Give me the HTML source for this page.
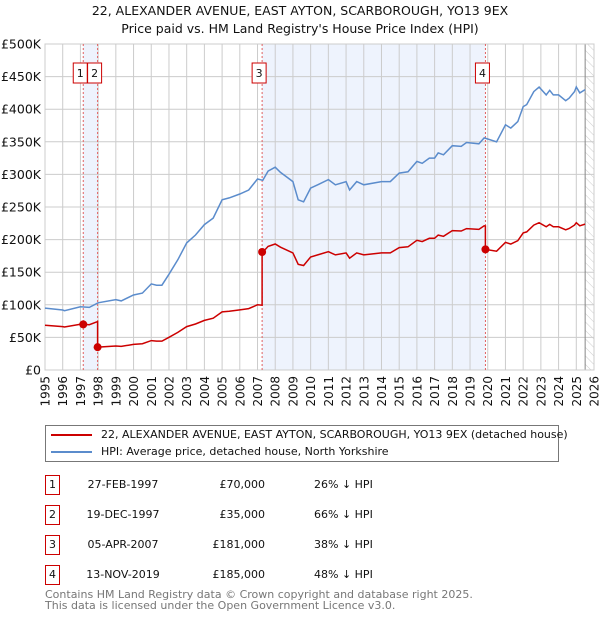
<!DOCTYPE html>
<html><head><meta charset="utf-8">
<style>
body{margin:0;background:#fff;font-family:"Liberation Sans","DejaVu Sans",sans-serif;}
svg text{font-family:"DejaVu Sans","Liberation Sans",sans-serif;}
</style></head>
<body>
<svg id="chart" width="600" height="620" xmlns="http://www.w3.org/2000/svg" style="position:absolute;left:0;top:0">
<defs>
<pattern id="hatch" width="6" height="6" patternUnits="userSpaceOnUse" patternTransform="rotate(-45)">
<line x1="0" y1="0" x2="0" y2="6" stroke="#ccc" stroke-width="1"/>
</pattern>
</defs>
<text x="300" y="15" font-size="12.5" text-anchor="middle" fill="#111">22, ALEXANDER AVENUE, EAST AYTON, SCARBOROUGH, YO13 9EX</text>
<text x="300" y="33" font-size="12.5" text-anchor="middle" fill="#111">Price paid vs. HM Land Registry's House Price Index (HPI)</text>
<g id="plot"></g>
</svg>

<div style="position:absolute;left:45px;top:425px;width:514px;height:37px;border:1px solid #777;box-sizing:border-box;font-family:'DejaVu Sans',sans-serif;font-size:11px;color:#111;">
 <div style="position:absolute;left:5px;top:2px;white-space:nowrap;line-height:14px"><span style="display:inline-block;width:41px;height:2px;background:#cc0000;vertical-align:middle;margin-right:9px"></span>22, ALEXANDER AVENUE, EAST AYTON, SCARBOROUGH, YO13 9EX (detached house)</div>
 <div style="position:absolute;left:5px;top:19px;white-space:nowrap;line-height:14px"><span style="display:inline-block;width:41px;height:2px;background:#5b8ccc;vertical-align:middle;margin-right:9px"></span>HPI: Average price, detached house, North Yorkshire</div>
</div>

<div id="table" style="font-family:'DejaVu Sans',sans-serif;font-size:11px;color:#111;"></div>

<div style="position:absolute;left:45px;top:590px;font-family:'DejaVu Sans',sans-serif;font-size:11px;color:#777;line-height:10.5px">Contains HM Land Registry data © Crown copyright and database right 2025.<br>This data is licensed under the Open Government Licence v3.0.</div>

<script>
const hpiYears=[1995,1996,1996.1,1997,1997.5,1998,1999,1999.3,2000,2000.5,2001,2001.3,2001.6,2002,2002.5,2003,2003.5,2004,2004.5,2005,2005.4,2006,2006.5,2007,2007.3,2007.6,2008,2008.3,2008.6,2009,2009.3,2009.6,2010,2010.4,2011,2011.4,2012,2012.2,2012.6,2013,2014,2014.5,2015,2015.5,2016,2016.3,2016.7,2017,2017.2,2017.5,2018,2018.5,2018.8,2019.5,2019.8,2020.5,2021,2021.3,2021.7,2022,2022.2,2022.6,2022.9,2023.3,2023.5,2023.7,2024,2024.4,2024.6,2024.9,2025,2025.2,2025.5];
const hpiValues=[95,92,91,97,96,103,108,106,115,118,132,130,130,147,169,195,207,223,233,261,264,270,276,293,291,305,311,303,297,289,261,258,279,284,292,284,289,276,289,284,289,289,302,304,320,317,325,325,333,330,344,343,349,347,356,350,376,371,381,404,407,427,434,422,429,422,422,413,417,427,434,425,430];
const saleDates=[1997.16,1997.97,2007.26,2019.87];
const salePrices=[70,35,181,185];
const saleLabels=["1","2","3","4"];
const saleDateText=["27-FEB-1997","19-DEC-1997","05-APR-2007","13-NOV-2019"];
const salePriceText=["£70,000","£35,000","£181,000","£185,000"];
const saleHpiText=["26% ↓ HPI","66% ↓ HPI","38% ↓ HPI","48% ↓ HPI"];
const yTicks=[0,50,100,150,200,250,300,350,400,450,500];
const yTickLabels=["£0","£50K","£100K","£150K","£200K","£250K","£300K","£350K","£400K","£450K","£500K"];
const xTicks=[1995,1996,1997,1998,1999,2000,2001,2002,2003,2004,2005,2006,2007,2008,2009,2010,2011,2012,2013,2014,2015,2016,2017,2018,2019,2020,2021,2022,2023,2024,2025,2026];

const X0=45,X1=594,Y0=370,Y1=44;
const xs=t=>X0+(t-1995)/(2026-1995)*(X1-X0);
const ys=v=>Y0-v/500*(Y0-Y1);
const NS="http://www.w3.org/2000/svg";
const plot=document.getElementById('plot');
function mk(tag,attrs,parent){const e=document.createElementNS(NS,tag);for(const k in attrs)e.setAttribute(k,attrs[k]);(parent||plot).appendChild(e);return e;}
function hpiAt(t){if(t<=hpiYears[0])return hpiValues[0];for(let i=1;i<hpiYears.length;i++){if(t<=hpiYears[i]){const f=(t-hpiYears[i-1])/(hpiYears[i]-hpiYears[i-1]);return hpiValues[i-1]+f*(hpiValues[i]-hpiValues[i-1]);}}return hpiValues[hpiValues.length-1];}

for(let i=0;i<saleDates.length;i+=2){
 const r=mk('rect',{x:xs(saleDates[i]),y:Y1,width:xs(saleDates[i+1])-xs(saleDates[i]),height:Y0-Y1,fill:'#eef3fd'});
 
 
}
const hx=xs(2025.5);
const hr=mk('rect',{x:hx,y:Y1,width:X1-hx,height:Y0-Y1,fill:'url(#hatch)'});


yTicks.forEach((v,i)=>{
 const l=mk('line',{x1:X0,x2:X1,y1:ys(v),y2:ys(v),stroke:'#ccc','stroke-width':1});
 
 
 const t=mk('text',{x:X0-4,y:ys(v)+4.5,'font-size':12.5,'text-anchor':'end',fill:'#111'});
 t.textContent=yTickLabels[i];
 
 
});
xTicks.forEach(yr=>{
 const l=mk('line',{x1:xs(yr),x2:xs(yr),y1:Y1,y2:Y0,stroke:'#ccc','stroke-width':1});
 
 
 const t=mk('text',{x:0,y:0,'font-size':12,'text-anchor':'end',fill:'#111',transform:`translate(${xs(yr)+4.5},376) rotate(-90)`});
 t.textContent=yr;
 
 
});
const nl=mk('line',{x1:hx,x2:hx,y1:Y1,y2:Y0,stroke:'#888','stroke-width':1});


const bd=mk('rect',{x:X0,y:Y1,width:X1-X0,height:Y0-Y1,fill:'none',stroke:'#ccc'});



saleDates.forEach(d=>{
 const l=mk('line',{x1:xs(d),x2:xs(d),y1:Y1,y2:Y0,stroke:'#e06060','stroke-width':1,'stroke-dasharray':'2,2'});
 
 
});

const hp=hpiYears.map((t,i)=>`${xs(t).toFixed(1)},${ys(hpiValues[i]).toFixed(1)}`).join(' ');
const hl=mk('polyline',{points:hp,fill:'none',stroke:'#5b8ccc','stroke-width':1.5});



const pts=[];
const allT=hpiYears.concat(saleDates).sort((a,b)=>a-b);
function priceSeg(t,k){return salePrices[k]*hpiAt(t)/hpiAt(saleDates[k]);}
allT.forEach(t=>{
 let k=0;for(let i=0;i<saleDates.length;i++)if(t>=saleDates[i])k=i;
 if(saleDates.includes(t)&&saleDates.indexOf(t)>0){const j=saleDates.indexOf(t);pts.push([t,priceSeg(t,j-1)]);pts.push([t,salePrices[j]]);}
 else pts.push([t,priceSeg(t,k)]);
});
const rl=mk('polyline',{points:pts.map(p=>`${xs(p[0]).toFixed(1)},${ys(p[1]).toFixed(1)}`).join(' '),fill:'none',stroke:'#cc0000','stroke-width':1.5});



saleDates.forEach((d,i)=>{
 const c=mk('circle',{cx:xs(d),cy:ys(salePrices[i]),r:4,fill:'#cc0000'});
 
 
 const bx=xs(d)-3-7;
 const r=mk('rect',{x:bx,y:63,width:14,height:20,fill:'#fff',stroke:'#cc0000','stroke-width':1});
 
 
 const t=mk('text',{x:bx+7,y:77,'font-size':11,'text-anchor':'middle',fill:'#111'});
 t.textContent=saleLabels[i];
 
 
});

const tb=document.getElementById('table');
saleLabels.forEach((lab,i)=>{
 const top=475+i*30;
 const row=document.createElement('div');
 
 
 row.style.cssText=`position:absolute;left:0;top:${top}px;width:600px;height:20px;`;
 row.innerHTML=`<div style="position:absolute;left:45px;top:0;width:15px;height:20px;border:1px solid #cc0000;box-sizing:border-box;text-align:center;line-height:18px">${lab}</div>`+
 `<div style="position:absolute;left:73px;width:100px;text-align:center;line-height:20px">${saleDateText[i]}</div>`+
 `<div style="position:absolute;left:165px;width:100px;text-align:right;line-height:20px">${salePriceText[i]}</div>`+
 `<div style="position:absolute;left:314px;line-height:20px;white-space:nowrap">${saleHpiText[i]}</div>`;
 tb.appendChild(row);
});
</script>
</body></html>
